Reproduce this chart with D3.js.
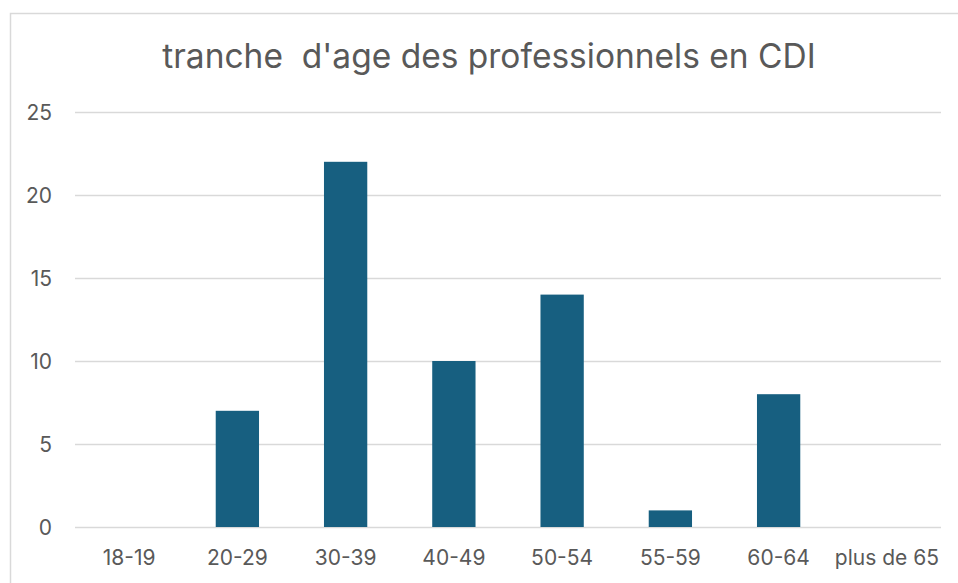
<!DOCTYPE html>
<html>
<head>
<meta charset="utf-8">
<script src="https://cdn.jsdelivr.net/npm/d3@7"></script>
<style>
  body { margin: 0; background: #fff; }
  svg { display: block; font-family: Inter, "Open Sans", sans-serif; }
</style>
</head>
<body>
<div id="chart"></div>
<script>
// data
const categories = ["18-19", "20-29", "30-39", "40-49", "50-54", "55-59", "60-64", "plus de 65"];
const counts = [0, 7, 22, 10, 14, 1, 8, 0];
const yTicks = [0, 5, 10, 15, 20, 25];
const title = "tranche\u00a0 d'age des professionnels en CDI";

const width = 958, height = 583;
const margin = { left: 75, right: 17, top: 112, bottom: 56 };

const svg = d3.select("#chart")
  .append("svg")
  .attr("width", width)
  .attr("height", height);

// chart frame (cut off on right/bottom like the screenshot)
svg.append("rect")
  .attr("x", 10.5)
  .attr("y", 13.5)
  .attr("width", width)
  .attr("height", height)
  .attr("fill", "none")
  .attr("stroke", "#d9d9d9")
  .attr("stroke-width", 1.5);

const x = d3.scaleBand()
  .domain(categories)
  .range([margin.left, width - margin.right])
  .paddingInner(0.6)
  .paddingOuter(0.3);

const y = d3.scaleLinear()
  .domain([0, 25])
  .range([height - margin.bottom, margin.top]);

// gridlines
svg.append("g")
  .selectAll("line")
  .data(yTicks)
  .join("line")
  .attr("x1", margin.left)
  .attr("x2", width - margin.right)
  .attr("y1", d => Math.round(y(d)) + 0.5)
  .attr("y2", d => Math.round(y(d)) + 0.5)
  .attr("stroke", "#d9d9d9")
  .attr("stroke-width", 1.5);

// y labels
svg.append("g")
  .selectAll("text")
  .data(yTicks)
  .join("text")
  .attr("x", 52)
  .attr("y", d => y(d))
  .attr("dy", "0.36em")
  .attr("text-anchor", "end")
  .attr("fill", "#595959")
  .style("font-size", "21px")
  .text(d => d);

// bars
svg.append("g")
  .selectAll("rect")
  .data(counts)
  .join("rect")
  .attr("x", (d, i) => x(categories[i]))
  .attr("y", d => y(d))
  .attr("width", x.bandwidth())
  .attr("height", d => y(0) - y(d))
  .attr("fill", "#175f80");

// x labels
svg.append("g")
  .selectAll("text")
  .data(categories)
  .join("text")
  .attr("x", d => x(d) + x.bandwidth() / 2)
  .attr("y", 565)
  .attr("text-anchor", "middle")
  .attr("fill", "#595959")
  .style("font-size", "21px")
  .text(d => d);

// title
svg.append("text")
  .attr("x", 489)
  .attr("y", 68)
  .attr("text-anchor", "middle")
  .attr("fill", "#595959")
  .style("font-size", "33.5px")
  .text(title);
</script>
</body>
</html>
